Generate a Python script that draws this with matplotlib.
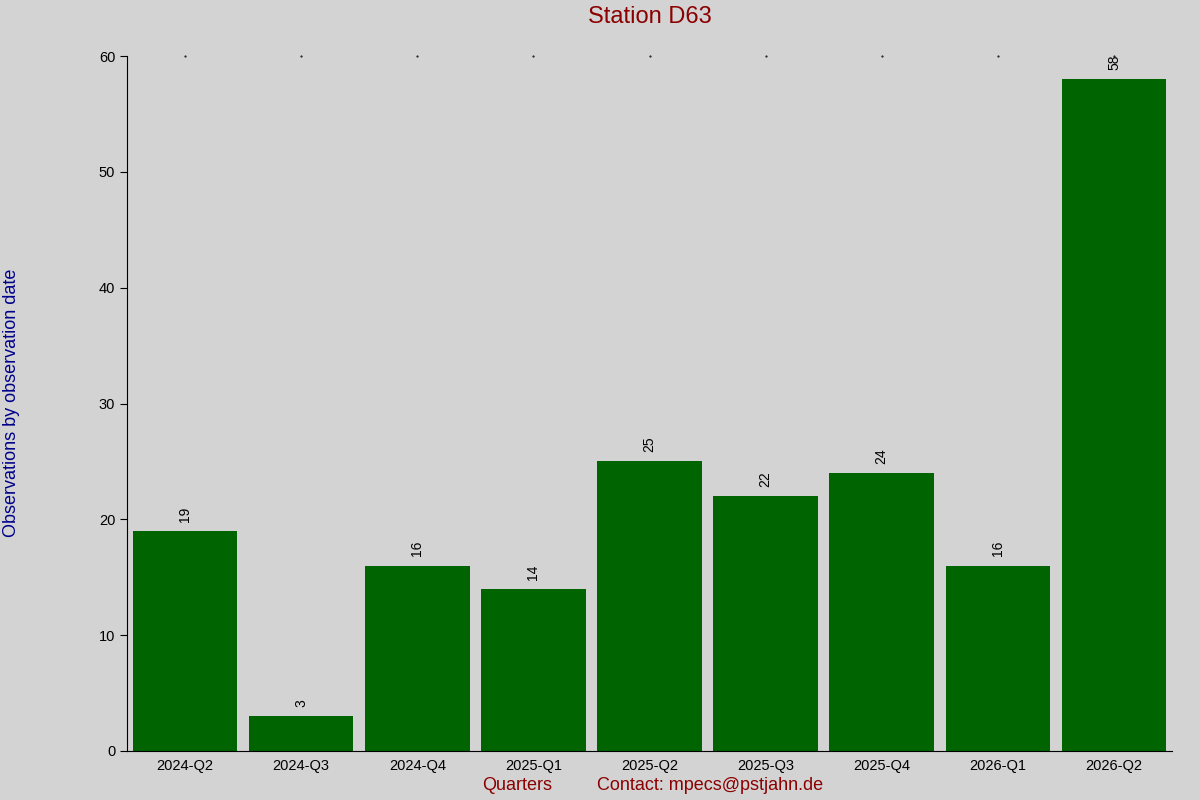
import matplotlib
matplotlib.use("Agg")
import matplotlib.pyplot as plt

categories = ["2024-Q2","2024-Q3","2024-Q4","2025-Q1","2025-Q2","2025-Q3","2025-Q4","2026-Q1","2026-Q2"]
values = [19, 3, 16, 14, 25, 22, 24, 16, 58]

plt.rcParams['font.family'] = ['Liberation Sans', 'DejaVu Sans']
fig = plt.figure(figsize=(12, 8), dpi=100, facecolor='#d3d3d3')
ax = fig.add_axes([127/1200, 1-751/800, (1172-127)/1200, (751-56)/800])
ax.set_facecolor('#d3d3d3')
x = list(range(len(categories)))
ax.bar(x, values, width=0.9, color='#006400')
for xi, v in zip(x, values):
    ax.text(xi, v + 0.8, str(v), rotation=90, ha='center', va='bottom', fontsize=10)
ax.set_xlim(-0.5, len(categories) - 0.5)
ax.set_ylim(0, 60)
ax.set_yticks(range(0, 61, 10))
ax.set_xticks(x)
ax.set_xticklabels(categories)
ax.tick_params(axis='both', labelsize=10.5, length=5)
ax.tick_params(axis='x', length=0, pad=6)
for s in ['top', 'right']:
    ax.spines[s].set_visible(False)
for xi in x:
    ax.plot(xi, 60, marker='.', markersize=1, color='black', clip_on=False)
fig.text(650/1200, 1-17/800, "Station D63", color='#8b0000', fontsize=17, ha='center', va='center')
fig.text(12/1200, 1-403/800, "Observations by observation date", color='#00008b', fontsize=13,
         rotation=90, ha='center', va='center')
fig.text(517/1200, 1-786/800, "Quarters", color='#8b0000', fontsize=13, ha='center', va='center')
fig.text(710/1200, 1-786/800, "Contact: mpecs@pstjahn.de", color='#8b0000', fontsize=13, ha='center', va='center')
fig.savefig("out.png", dpi=100, facecolor=fig.get_facecolor())
